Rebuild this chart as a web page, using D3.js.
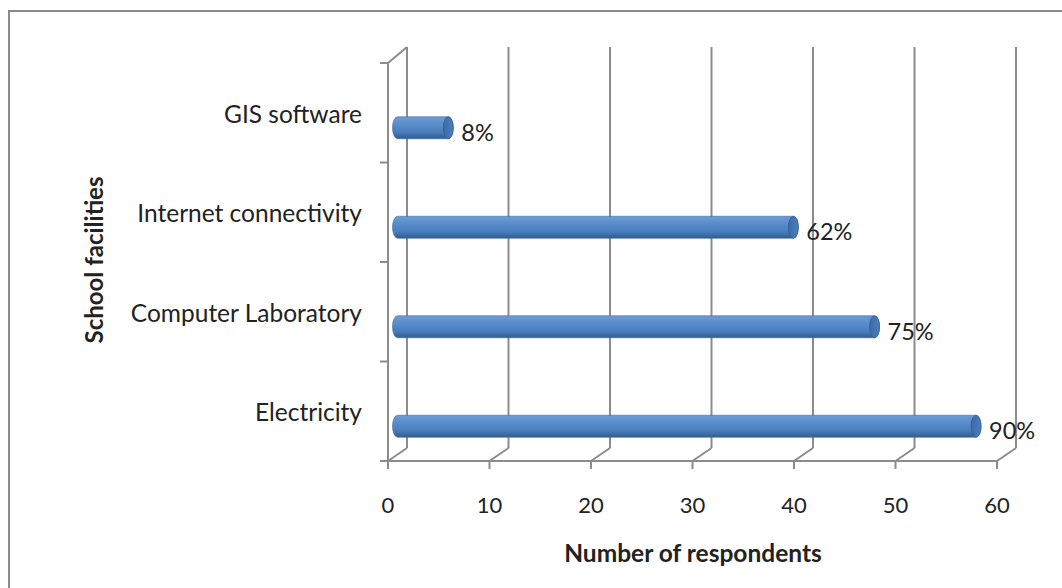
<!DOCTYPE html>
<html>
<head>
<meta charset="utf-8">
<script src="https://cdn.jsdelivr.net/npm/d3@7"></script>
<style>
  html, body { margin: 0; padding: 0; background: #fff; }
  svg { display: block; }
  text { font-family: Lato, "Open Sans", sans-serif; fill: #222; }
</style>
</head>
<body>
<svg id="chart" width="1062" height="588"></svg>
<script>
// School facilities available to respondents
const categories = ["Electricity", "Computer Laboratory", "Internet connectivity", "GIS software"];
const respondents = [57, 47, 39, 5];
const totalRespondents = 63;
// Share of all respondents, shown beside each bar
const percentLabels = respondents.map(v => Math.round(v / totalRespondents * 100));
const xTicks = [0, 10, 20, 30, 40, 50, 60];

const svg = d3.select("#chart");

// Front plane of the 3-D plot box
const front = { left: 388, right: 997, top: 63, bottom: 461 };
const depth = { dx: 19, dyTop: -16, dyBottom: -13 };

const x = d3.scaleLinear().domain([0, 60]).range([front.left, front.right]);
const y = d3.scaleBand().domain(categories).range([front.bottom, front.top]);

const gridColor = "#8c8c8c";

// Chart frame
svg.append("rect")
  .attr("x", 9).attr("y", 11).attr("width", 1060).attr("height", 600)
  .attr("fill", "none").attr("stroke", "#8a8a8a").attr("stroke-width", 2);

const grid = svg.append("g").attr("stroke", gridColor).attr("stroke-width", 2).attr("fill", "none");

// Back-wall gridlines
grid.selectAll("line.back").data(xTicks).join("line")
  .attr("x1", d => x(d) + depth.dx).attr("x2", d => x(d) + depth.dx)
  .attr("y1", front.top + depth.dyTop).attr("y2", front.bottom + depth.dyBottom);

// Floor diagonals from each tick to the back wall
grid.selectAll("line.floor").data(xTicks).join("line")
  .attr("x1", d => x(d)).attr("y1", front.bottom)
  .attr("x2", d => x(d) + depth.dx).attr("y2", front.bottom + depth.dyBottom);

// Left wall edge and its top diagonal
grid.append("line")
  .attr("x1", front.left).attr("x2", front.left)
  .attr("y1", front.top).attr("y2", front.bottom);
grid.append("line")
  .attr("x1", front.left).attr("y1", front.top)
  .attr("x2", front.left + depth.dx).attr("y2", front.top + depth.dyTop);

// Front floor edge
grid.append("line")
  .attr("x1", front.left - 8).attr("x2", front.right)
  .attr("y1", front.bottom).attr("y2", front.bottom);

// Category boundary ticks
const yBounds = [front.bottom].concat(categories.map(c => y(c)));
grid.selectAll("line.ytick").data(yBounds).join("line")
  .attr("x1", front.left - 8).attr("x2", front.left)
  .attr("y1", d => d).attr("y2", d => d);

// Value ticks below the floor
grid.selectAll("line.xtick").data(xTicks).join("line")
  .attr("x1", d => x(d)).attr("x2", d => x(d))
  .attr("y1", front.bottom).attr("y2", front.bottom + 8);

// Tick labels
svg.append("g").selectAll("text").data(xTicks).join("text")
  .attr("x", d => x(d)).attr("y", front.bottom + 52)
  .attr("text-anchor", "middle").attr("font-size", 22)
  .text(d => d);

// Category labels
svg.append("g").selectAll("text").data(categories).join("text")
  .attr("x", front.left - 26)
  .attr("y", d => y(d) + y.bandwidth() / 2 + 10)
  .attr("text-anchor", "end").attr("font-size", 24.5)
  .text(d => d);

// Axis titles
svg.append("text")
  .attr("x", 693).attr("y", 562)
  .attr("text-anchor", "middle").attr("font-size", 24.5).attr("font-weight", "bold")
  .text("Number of respondents");
svg.append("text")
  .attr("transform", "translate(103,260) rotate(-90)")
  .attr("text-anchor", "middle").attr("font-size", 24).attr("font-weight", "bold")
  .text("School facilities");

// Cylinder shading
const defs = svg.append("defs");
const body = defs.append("linearGradient").attr("id", "cylBody")
  .attr("x1", 0).attr("y1", 0).attr("x2", 0).attr("y2", 1);
body.append("stop").attr("offset", "0%").attr("stop-color", "#6e9dd6");
body.append("stop").attr("offset", "30%").attr("stop-color", "#5b8ecd");
body.append("stop").attr("offset", "70%").attr("stop-color", "#4a7dbb");
body.append("stop").attr("offset", "100%").attr("stop-color", "#2f5d94");
const cap = defs.append("linearGradient").attr("id", "cylCap")
  .attr("x1", 0).attr("y1", 0).attr("x2", 1).attr("y2", 0);
cap.append("stop").attr("offset", "0%").attr("stop-color", "#3c69a3");
cap.append("stop").attr("offset", "100%").attr("stop-color", "#4c7fbf");

// Bars sit midway through the depth of the plot box
const xBar = d3.scaleLinear().domain(x.domain())
  .range(x.range().map(v => v + depth.dx / 2));
const barH = 22;
const rx = 5;
const barCy = c => y(c) + y.bandwidth() / 2 + 15;

const bars = svg.append("g").selectAll("g").data(categories).join("g");
bars.append("path")
  .attr("d", (c, i) => {
    const x0 = xBar(0), x1 = xBar(respondents[i]), cy = barCy(c), r = barH / 2;
    return `M${x0},${cy - r} L${x1},${cy - r} A${rx},${r} 0 0 1 ${x1},${cy + r} L${x0},${cy + r} A${rx},${r} 0 0 1 ${x0},${cy - r} Z`;
  })
  .attr("fill", "url(#cylBody)")
  .attr("stroke", "#3d6aa3").attr("stroke-width", 0.6);
bars.append("ellipse")
  .attr("cx", (c, i) => xBar(respondents[i]))
  .attr("cy", c => barCy(c))
  .attr("rx", rx).attr("ry", barH / 2)
  .attr("fill", "url(#cylCap)")
  .attr("stroke", "#34609a").attr("stroke-width", 0.8);

// Share labels at the end of each bar
bars.append("text")
  .attr("x", (c, i) => xBar(respondents[i]) + rx + 8)
  .attr("y", c => barCy(c) + 13)
  .attr("font-size", 23.5)
  .text((c, i) => percentLabels[i] + "%");
</script>
</body>
</html>
